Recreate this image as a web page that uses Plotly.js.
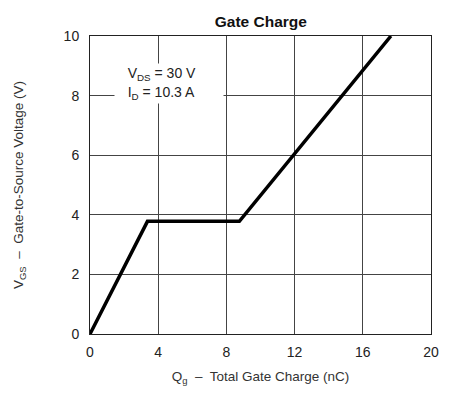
<!DOCTYPE html>
<html><head><meta charset="utf-8">
<script src="https://cdn.plot.ly/plotly-3.0.1.min.js"></script>
<style>html,body{margin:0;padding:0;background:#fff}#c{width:470px;height:399px}</style>
</head><body><div id="c"></div>
<script>
const qg = [0, 3.37, 8.76, 17.65];
const vgs = [0, 3.78, 3.78, 10];
const xTicks = [0, 4, 8, 12, 16, 20];
const yTicks = [0, 2, 4, 6, 8, 10];
const titleText = '<b>Gate Charge</b>';
const xTitle = 'Q<sub>g</sub>  –  Total Gate Charge (nC)';
const yTitle = 'V<sub>GS</sub>  –  Gate-to-Source Voltage (V)';
const noteText = '&nbsp;&nbsp;&nbsp;V<sub>DS</sub> = 30 V<br>&nbsp;&nbsp;&nbsp;I<sub>D</sub> = 10.3 A';

const font = {family: 'Liberation Sans, Arial, sans-serif', size: 12, color: '#222'};
Plotly.newPlot('c', [{
  x: qg, y: vgs, mode: 'lines', line: {color: '#000', width: 3.5}, hoverinfo: 'skip'
}], {
  width: 470, height: 399,
  margin: {l: 90, r: 39, t: 36, b: 65},
  paper_bgcolor: '#fff', plot_bgcolor: '#fff',
  font: font,
  showlegend: false,
  title: {text: titleText, font: {family: font.family, size: 15.5, color: '#111'}, x: 0.555, xanchor: 'center', y: 0.945, yanchor: 'middle'},
  xaxis: {range: [0, 20], tickvals: xTicks, ticks: '', showgrid: true, gridcolor: '#444', gridwidth: 1,
    showline: true, linecolor: '#222', linewidth: 1, mirror: true, zeroline: false,
    tickfont: {size: 14, color: '#222'}, ticklabelstandoff: 5,
    title: {text: xTitle, font: {size: 13.5, color: '#333'}, standoff: 12}},
  yaxis: {range: [0, 10], tickvals: yTicks, ticks: '', showgrid: true, gridcolor: '#444', gridwidth: 1,
    showline: true, linecolor: '#222', linewidth: 1, mirror: true, zeroline: false,
    tickfont: {size: 14, color: '#222'}, ticklabelstandoff: 7,
    title: {text: yTitle, font: {size: 13.5, color: '#333'}, standoff: 36}},
  annotations: [{
    x: 4.63, y: 8.41, xref: 'x', yref: 'y', text: noteText, showarrow: false,
    align: 'left', valign: 'middle', width: 106, height: 37, borderpad: 1,
    bgcolor: '#fff', font: {size: 14, color: '#222'}
  }]
}, {displayModeBar: false, staticPlot: true});
</script></body></html>
